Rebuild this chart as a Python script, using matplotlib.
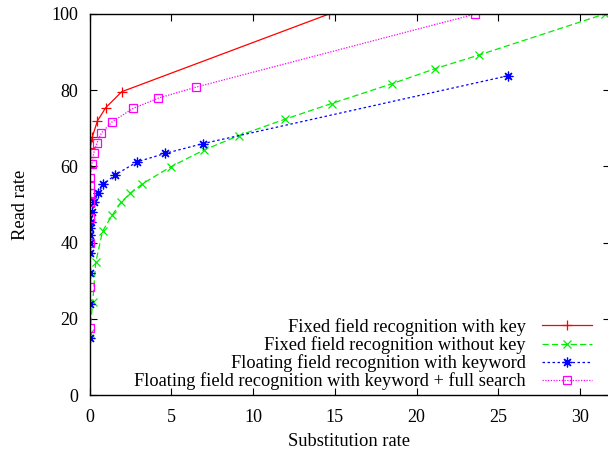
import matplotlib
matplotlib.use('Agg')
import matplotlib.pyplot as plt

# data
labels = ['Fixed field recognition with key',
          'Fixed field recognition without key',
          'Floating field recognition with keyword',
          'Floating field recognition with keyword + full search']

key_x = [0.0, 0.02, 0.04, 0.03, 0.17, 0.48, 0.99, 1.97, 14.65]
key_y = [51.5, 59.8, 62.4, 64.8, 67.7, 71.9, 75.4, 79.6, 100]

nokey_x = [0.02, 0.2, 0.38, 0.8, 1.39, 1.93, 2.48, 3.23, 4.97, 7.0, 9.14,
           11.96, 14.8, 18.5, 21.1, 23.8, 31.5]
nokey_y = [16.2, 24.5, 34.8, 43.0, 47.2, 50.6, 52.9, 55.4, 59.9, 64.3, 68.1,
           72.4, 76.5, 81.7, 85.6, 89.2, 100]

float_x = [0.0, 0.0, 0.0, 0.02, 0.03, 0.04, 0.05, 0.07, 0.17, 0.3, 0.5,
           0.85, 1.58, 2.92, 4.62, 6.96, 25.6]
float_y = [14.9, 23.9, 32.1, 37.2, 40.0, 42.0, 43.8, 45.4, 48.1, 50.6, 52.9,
           55.3, 57.8, 61.2, 63.4, 66.0, 83.8]

full_x = [0.0, 0.0, 0.0, 0.0, 0.0, 0.0, 0.0, 0.0, 0.15, 0.25, 0.45, 0.73,
          1.39, 2.65, 4.2, 6.51, 23.6]
full_y = [17.5, 28.3, 39.8, 46.5, 50.6, 53.1, 55.1, 57.0, 60.6, 63.4, 66.1,
          68.8, 71.7, 75.2, 77.9, 80.8, 100]

x_ticks = [0, 5, 10, 15, 20, 25, 30]
y_ticks = [0, 20, 40, 60, 80, 100]

plt.rcParams['font.family'] = ['Liberation Serif', 'DejaVu Serif']
plt.rcParams['font.size'] = 13

fig = plt.figure(figsize=(6.08, 4.5), dpi=100)
ax = fig.add_axes([89.5 / 608, 55 / 450, 520 / 608, 381 / 450])

lw = 0.9
ax.plot(key_x, key_y, color='#ff0000', lw=lw, marker='+', ms=7, mew=lw,
        label=labels[0])
ax.plot(nokey_x, nokey_y, color='#00ee00', lw=lw, ls=(0, (5, 2.5)), marker='x',
        ms=6, mew=lw, label=labels[1])
ax.plot(float_x, float_y, color='#0000ff', lw=lw, ls=(0, (2, 2)), marker=(8, 2, 0),
        ms=7, mew=lw, label=labels[2])
ax.plot(full_x, full_y, color='#ff00ff', lw=lw, ls=(0, (1, 1.2)), marker='s',
        ms=6, mew=lw, mfc='none', label=labels[3])

ax.set_xlim(0, 31.8)
ax.set_ylim(0, 100)
ax.set_xticks(x_ticks)
ax.set_yticks(y_ticks)
ax.tick_params(direction='in', length=5, width=0.8, top=True, right=True,
               labelsize=13)
ax.tick_params(axis='x', pad=10)
ax.tick_params(axis='y', pad=8)
for s in ax.spines.values():
    s.set_linewidth(1.0)
ax.spines['right'].set_visible(False)

ax.set_xlabel('Substitution rate', fontsize=13.3, labelpad=5)
ax.set_ylabel('Read rate', fontsize=13.3, labelpad=16)

leg = ax.legend(loc='lower right', markerfirst=False, frameon=False,
                fontsize=13.2, handlelength=2.7, labelspacing=0.02,
                borderaxespad=0, borderpad=0, handletextpad=0.9,
                bbox_to_anchor=(0.966, 0.012))
# right-align the legend rows like gnuplot does
for col in leg._legend_handle_box.get_children():
    col.align = 'right'

fig.savefig('out.png', dpi=100)
